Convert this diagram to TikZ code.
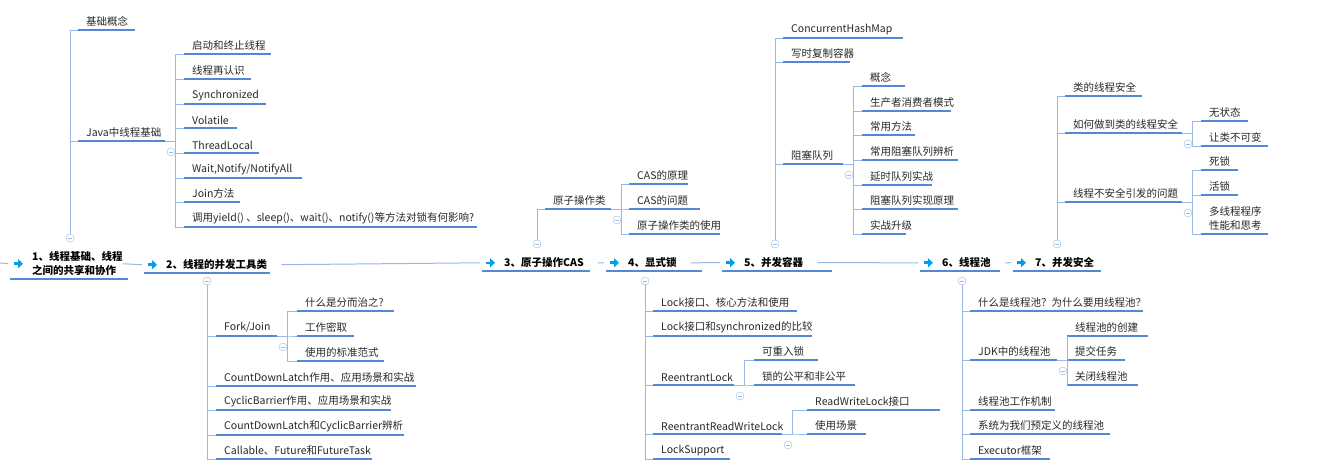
\documentclass[tikz,border=0pt]{standalone}
\usepackage{fontspec}
\newfontfamily\cjk{Noto Sans CJK SC}
\usetikzlibrary{arrows.meta}
\definecolor{ublue}{RGB}{84,136,214}
\definecolor{cblue}{RGB}{150,185,232}
\definecolor{tgray}{RGB}{40,40,40}
\definecolor{acyan}{RGB}{0,160,233}
\tikzset{
    leaf/.style = {anchor=south west, inner xsep=8pt, inner ysep=3pt,
        font=\cjk\fontsize{10.5}{14}\selectfont, text=tgray, align=left},
    main/.style = {leaf, inner xsep=0pt, xshift=22pt, font=\cjk\bfseries\fontsize{10.5}{14}\selectfont, text=black},
    uline/.style = {draw=ublue, line width=2pt},
    conn/.style = {draw=cblue, line width=1pt},
    fold/.style = {draw=cblue, fill=white, circle, inner sep=0pt, minimum size=8pt,
        path picture={\draw[cblue] ([xshift=-2pt]path picture bounding box.center) -- ([xshift=2pt]path picture bounding box.center);}},
    jump/.style = {draw=acyan, line width=2.6pt, -{Triangle[length=5pt,width=9pt]}}
}
% topic with underline: name, x, y, width, text
\newcommand{\topic}[5]{%
  \node[leaf] (#1) at (#2,#3) {#5};
  \draw[uline] (#1.south west) -- ++(#4,0) coordinate (#1-e);}
\newcommand{\mtopic}[5]{%
  \node[main] (#1) at (#2,#3) {#5};
  \draw[uline] (#2,#3) -- ++(#4,0) coordinate (#1-e);
  \draw[jump] ([xshift=-18pt]#1.west) -- ++(9pt,0);}
% sub branch: parent, children
\newcommand{\sub}[2]{%
  \node[fold] (#1-f) at ([xshift=6pt,yshift=-11pt]#1-e) {};
  \foreach \c in {#2} \draw[conn] (#1-e) -- ++(10,0) |- (\c.south west);}

\begin{document}
\begin{tikzpicture}[x=1pt,y=-1pt]
\useasboundingbox (0,0) rectangle (1341,469);
\fill[white] (0,0) rectangle (1341,469);

% main line
\mtopic{m1}{10}{279}{118}{1、线程基础、线程\\之间的共享和协作}
\mtopic{m2}{144}{273}{126}{2、线程的并发工具类}
\mtopic{m3}{482}{271}{108}{3、原子操作CAS}
\mtopic{m4}{606}{271}{96}{4、显式锁}
\mtopic{m5}{722}{271}{110}{5、并发容器}
\mtopic{m6}{920}{271}{80}{6、线程池}
\mtopic{m7}{1013}{271}{88}{7、并发安全}
\coordinate (s0) at (0,263);
\draw[conn] (s0) -- ([xshift=-24pt]m1.west);
\draw[conn] (m1.east) -- ([xshift=-24pt]m2.west);
\draw[conn] ([xshift=14pt]m2.east) -- ([xshift=-24pt]m3.west);
\draw[conn] ([xshift=14pt]m3.east) -- ([xshift=-24pt]m4.west);
\draw[conn] ([xshift=14pt]m4.east) -- ([xshift=-24pt]m5.west);
\draw[conn] ([xshift=14pt]m5.east) -- ([xshift=-24pt]m6.west);
\draw[conn] ([xshift=14pt]m6.east) -- ([xshift=-24pt]m7.west);

% 1
\node[fold] (f1) at (70,238) {};
\topic{a1}{78}{30}{57}{基础概念}
\topic{a2}{78}{141}{87}{Java中线程基础}
\foreach \c in {a1,a2} \draw[conn] (f1.north) |- (\c.south west);
\topic{a21}{184}{54}{87}{启动和终止线程}
\topic{a22}{184}{79}{67}{线程再认识}
\topic{a23}{184}{104}{82}{Synchronized}
\topic{a24}{184}{128}{53}{Volatile}
\topic{a25}{184}{153}{75}{ThreadLocal}
\topic{a26}{184}{178}{118}{Wait,Notify/NotifyAll}
\topic{a27}{184}{202}{56}{Join方法}
\topic{a28}{184}{227}{293}{调用yield()\ 、sleep()、wait()、notify()等方法对锁有何影响?}
\sub{a2}{a21,a22,a23,a24,a25,a26,a27,a28}

% 2
\node[fold] (f2) at (207,281) {};
\topic{b1}{216}{336}{61}{Fork/Join}
\topic{b2}{216}{386}{200}{CountDownLatch作用、应用场景和实战}
\topic{b3}{216}{410}{175}{CyclicBarrier作用、应用场景和实战}
\topic{b4}{216}{435}{188}{CountDownLatch和CyclicBarrier辨析}
\topic{b5}{216}{459}{156}{Callable、Future和FutureTask}
\foreach \c in {b1,b2,b3,b4,b5} \draw[conn] (f2.south) |- (\c.south west);
\topic{b11}{297}{311}{97}{什么是分而治之?}
\topic{b12}{297}{336}{57}{工作密取}
\topic{b13}{297}{361}{87}{使用的标准范式}
\sub{b1}{b11,b12,b13}

% 3
\node[fold] (f3) at (537,244) {};
\topic{c1}{545}{209}{66}{原子操作类}
\draw[conn] (f3.north) |- (c1.south west);
\topic{c11}{629}{184}{59}{CAS的原理}
\topic{c12}{629}{209}{71}{CAS的问题}
\topic{c13}{629}{234}{91}{原子操作类的使用}
\sub{c1}{c11,c12,c13}

% 4
\node[fold] (f4) at (645,281) {};
\topic{d1}{653}{311}{144}{Lock接口、核心方法和使用}
\topic{d2}{653}{336}{159}{Lock接口和synchronized的比较}
\topic{d3}{653}{385}{81}{ReentrantLock}
\topic{d4}{653}{434}{129}{ReentrantReadWriteLock}
\topic{d5}{653}{459}{77}{LockSupport}
\foreach \c in {d1,d2,d3,d4,d5} \draw[conn] (f4.south) |- (\c.south west);
\topic{d31}{754}{360}{64}{可重入锁}
\topic{d32}{754}{385}{101}{锁的公平和非公平}
\sub{d3}{d31,d32}
\topic{d41}{807}{410}{133}{ReadWriteLock接口}
\topic{d42}{807}{434}{59}{使用场景}
\sub{d4}{d41,d42}

% 5
\node[fold] (f5) at (775,244) {};
\topic{e1}{783}{38}{120}{ConcurrentHashMap}
\topic{e2}{783}{62}{67}{写时复制容器}
\topic{e3}{783}{164}{60}{阻塞队列}
\foreach \c in {e1,e2,e3} \draw[conn] (f5.north) |- (\c.south west);
\topic{e31}{862}{86}{43}{概念}
\topic{e32}{862}{111}{89}{生产者消费者模式}
\topic{e33}{862}{135}{53}{常用方法}
\topic{e34}{862}{160}{96}{常用阻塞队列辨析}
\topic{e35}{862}{185}{70}{延时队列实战}
\topic{e36}{862}{209}{96}{阻塞队列实现原理}
\topic{e37}{862}{234}{44}{实战升级}
\sub{e3}{e31,e32,e33,e34,e35,e36,e37}

% 6
\node[fold] (f6) at (962,281) {};
\topic{g1}{970}{311}{173}{什么是线程池？为什么要用线程池？}
\topic{g2}{970}{360}{87}{JDK中的线程池}
\topic{g3}{970}{410}{85}{线程池工作机制}
\topic{g4}{970}{434}{140}{系统为我们预定义的线程池}
\topic{g5}{970}{459}{80}{Executor框架}
\foreach \c in {g1,g2,g3,g4,g5} \draw[conn] (f6.south) |- (\c.south west);
\topic{g21}{1067}{336}{81}{线程池的创建}
\topic{g22}{1067}{360}{58}{提交任务}
\topic{g23}{1067}{385}{71}{关闭线程池}
\sub{g2}{g21,g22,g23}

% 7
\node[fold] (f7) at (1057,244) {};
\topic{h1}{1065}{96}{77}{类的线程安全}
\topic{h2}{1065}{133}{117}{如何做到类的线程安全}
\topic{h3}{1065}{202}{117}{线程不安全引发的问题}
\foreach \c in {h1,h2,h3} \draw[conn] (f7.north) |- (\c.south west);
\topic{h21}{1201}{121}{47}{无状态}
\topic{h22}{1201}{146}{67}{让类不可变}
\sub{h2}{h21,h22}
\topic{h31}{1201}{170}{37}{死锁}
\topic{h32}{1201}{195}{37}{活锁}
\topic{h33}{1201}{234}{67}{多线程程序\\性能和思考}
\sub{h3}{h31,h32,h33}
\end{tikzpicture}
\end{document}
